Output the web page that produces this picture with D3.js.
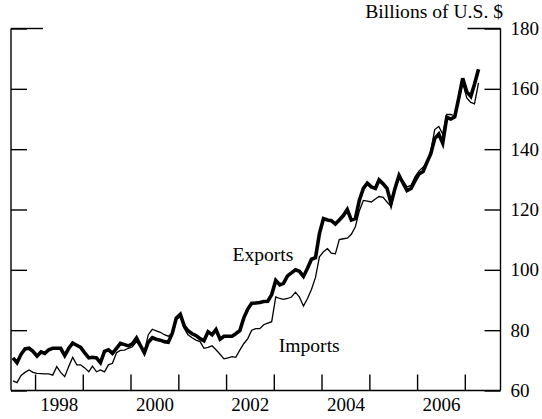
<!DOCTYPE html>
<html>
<head>
<meta charset="utf-8">
<script src="https://cdn.jsdelivr.net/npm/d3@7"></script>
<style>
  html, body { margin: 0; padding: 0; background: #fff; }
  svg { display: block; }
  text { font-family: "Liberation Serif", "Times New Roman", serif; fill: #000; }
</style>
</head>
<body>
<svg id="chart" width="542" height="419"></svg>
<script>
// ---- Data (monthly, Jul 1997 - Apr 2007), billions of U.S. $ ----
const startMonth = [1997, 7];
const exportsValues = [
  70.8, 69.2, 72.0, 73.8, 74.0, 73.0, 71.4, 72.8, 72.3, 73.5, 74.0, 74.0,
  74.0, 71.6, 74.0, 75.7, 75.0, 74.3, 72.5, 70.8, 71.0, 70.8, 69.2, 73.0,
  73.5, 72.3, 74.0, 75.6, 75.2, 74.8, 75.5, 77.4, 75.0, 72.5, 76.0, 77.5,
  77.0, 76.7, 76.2, 76.0, 79.0, 84.0, 85.3, 81.3, 79.8, 78.8, 78.2, 77.2,
  76.5, 79.5, 78.5, 80.2, 77.0, 78.0, 78.0, 78.0, 78.8, 79.8, 84.0, 87.0,
  88.9, 89.0, 89.2, 89.5, 89.6, 91.8, 96.5, 95.0, 95.5, 98.0, 99.0, 100.0,
  99.5, 97.8, 100.5, 103.5, 104.0, 112.0, 117.0, 116.5, 116.3, 115.2, 116.5, 118.0,
  120.0, 116.5, 117.0, 123.0, 127.0, 128.7, 127.5, 127.0, 129.8, 128.5, 127.0, 122.0,
  127.0, 131.3, 128.7, 126.3, 127.0, 129.5, 131.8, 132.6, 135.5, 138.5, 143.5, 145.0,
  142.0, 150.5, 150.0, 150.7, 157.0, 163.5, 159.0, 157.5, 161.5, 166.5
];
const importsValues = [
  63.2, 62.6, 65.0, 66.0, 66.8, 66.0, 65.7, 65.6, 65.5, 65.5, 65.1, 67.9,
  66.0, 64.6, 68.0, 71.0, 68.5, 68.5, 67.5, 66.2, 68.1, 66.2, 66.8, 66.2,
  68.5, 69.0, 72.5, 73.3, 73.4, 74.0, 74.5, 76.2, 74.5, 73.0, 78.5, 80.3,
  79.8, 79.3, 78.5, 78.0, 79.0, 83.5, 84.5, 80.5, 78.5, 77.5, 76.7, 76.2,
  74.0, 74.3, 74.8, 73.5, 72.0, 70.5, 70.8, 71.2, 71.0, 73.4, 75.5, 77.2,
  80.0, 80.5, 80.5, 81.8, 82.3, 82.8, 91.0, 90.5, 90.2, 90.5, 91.0, 92.6,
  91.0, 88.0, 90.5, 93.5, 97.5, 104.3, 106.0, 107.0, 105.5, 105.3, 110.0, 110.3,
  110.5, 111.8, 114.3, 119.5, 123.0, 122.8, 122.5, 123.5, 124.3, 124.0, 122.5, 121.0,
  126.5, 130.5, 129.5, 127.5, 128.0, 130.8, 132.8, 134.0, 135.5, 139.5, 146.5, 147.5,
  145.0, 151.5, 151.5, 151.0, 156.0, 162.0, 157.0, 155.5, 155.0, 162.0
];
const yTickValues = [60, 80, 100, 120, 140, 160, 180];
const xTickYears = [1998, 1999, 2000, 2001, 2002, 2003, 2004, 2005, 2006, 2007];
const xLabelYears = [1998, 2000, 2002, 2004, 2006];
const unitsLabel = "Billions of U.S. $";
const seriesLabels = [
  { text: "Exports", date: [2002, 2, 19], value: 102.8 },
  { text: "Imports", date: [2003, 2, 8], value: 72.9 }
];

(function () {
// ---- Layout ----
const svg = d3.select("#chart");
const mLeft = 11, mRight = 500.5, mTop = 28.5, mBottom = 390.5;

const x = d3.scaleTime()
  .domain([new Date(1997, 6, 1), new Date(2007, 9, 1)])
  .range([mLeft, mRight]);
const y = d3.scaleLinear().domain([60, 180]).range([mBottom, mTop]);

const monthDate = i => new Date(startMonth[0], startMonth[1] - 1 + i, 16);

// Frame
const frame = svg.append("g").attr("stroke", "#000").attr("stroke-width", 1.4).attr("fill", "none");
frame.append("line").attr("x1", mLeft).attr("x2", mLeft).attr("y1", mTop).attr("y2", mBottom);
frame.append("line").attr("x1", mRight).attr("x2", mRight).attr("y1", mTop).attr("y2", mBottom);
frame.append("line").attr("x1", mLeft).attr("x2", mRight).attr("y1", mBottom).attr("y2", mBottom);
frame.append("line").attr("x1", mLeft).attr("x2", mLeft + 32).attr("y1", mTop).attr("y2", mTop);
frame.append("line").attr("x1", mRight - 33).attr("x2", mRight).attr("y1", mTop).attr("y2", mTop);

// Left axis (inward ticks, no labels)
const yLeft = svg.append("g").attr("transform", `translate(${mLeft},0)`)
  .call(d3.axisLeft(y).tickValues(yTickValues).tickSize(-16).tickFormat(""));
// Right axis (inward ticks, labels outside)
const yRight = svg.append("g").attr("transform", `translate(${mRight},0)`)
  .call(d3.axisRight(y).tickValues(yTickValues).tickSize(-16).tickPadding(10).tickFormat(d3.format("d")));
// Bottom axis ticks (upward)
const xTicks = svg.append("g").attr("transform", `translate(0,${mBottom})`)
  .call(d3.axisBottom(x).tickValues(xTickYears.map(yr => new Date(yr, 0, 1))).tickSize(-16).tickFormat(""));
// Bottom labels at mid-year
const xLabels = svg.append("g").attr("transform", `translate(0,${mBottom})`)
  .call(d3.axisBottom(x).tickValues(xLabelYears.map(yr => new Date(yr, 6, 2))).tickSize(0).tickPadding(7)
    .tickFormat(d3.timeFormat("%Y")));

[yLeft, yRight, xTicks, xLabels].forEach(g => {
  g.select(".domain").remove();
  g.selectAll("line").attr("stroke", "#000").attr("stroke-width", 1.4);
  g.selectAll("text").attr("font-family", "Liberation Serif, serif").attr("font-size", 19).attr("fill", "#000");
});
xLabels.selectAll("line").remove();

// Lines
const line = d3.line().x((d, i) => x(monthDate(i))).y(d => y(d)).curve(d3.curveLinear);
svg.append("path").datum(importsValues)
  .attr("fill", "none").attr("stroke", "#000").attr("stroke-width", 1.3)
  .attr("stroke-linejoin", "miter").attr("d", line);
svg.append("path").datum(exportsValues)
  .attr("fill", "none").attr("stroke", "#000").attr("stroke-width", 3.6)
  .attr("stroke-linejoin", "miter").attr("d", line);

// Units label
svg.append("text").attr("x", mRight + 2.5).attr("y", 18)
  .attr("text-anchor", "end").attr("font-size", 19.6).text(unitsLabel);

// Series labels
svg.selectAll(".slabel").data(seriesLabels).enter().append("text")
  .attr("class", "slabel")
  .attr("x", d => x(new Date(d.date[0], d.date[1] - 1, d.date[2])))
  .attr("y", d => y(d.value))
  .attr("font-size", 19.6)
  .text(d => d.text);
})();
</script>
</body>
</html>
